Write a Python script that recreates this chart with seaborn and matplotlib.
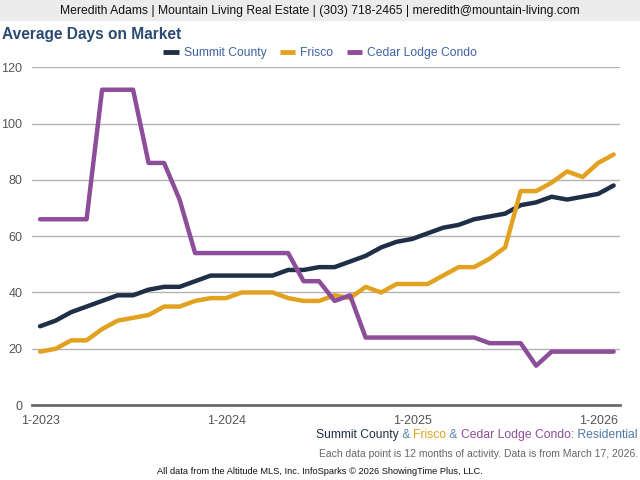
import numpy as np
import pandas as pd
import matplotlib

matplotlib.use("Agg")
import matplotlib.pyplot as plt
import seaborn as sns

# monthly points, Jan 2023 .. Feb 2026 (12-month rolling)
months = pd.period_range("2023-01", "2026-02", freq="M")
summit = [28, 30, 33, 35, 37, 39, 39, 41, 42, 42, 44, 46, 46, 46, 46, 46,
          48, 48, 49, 49, 51, 53, 56, 58, 59, 61, 63, 64, 66, 67, 68, 71,
          72, 74, 73, 74, 75, 78]
frisco = [19, 20, 23, 23, 27, 30, 31, 32, 35, 35, 37, 38, 38, 40, 40, 40,
          38, 37, 37, 39, 38, 42, 40, 43, 43, 43, 46, 49, 49, 52, 56, 76,
          76, 79, 83, 81, 86, 89]
cedar = [66, 66, 66, 66, 112, 112, 112, 86, 86, 73, 54, 54, 54, 54, 54, 54,
         54, 44, 44, 37, 39, 24, 24, 24, 24, 24, 24, 24, 24, 22, 22, 22,
         14, 19, 19, 19, 19, 19]
series_names = ["Summit County", "Frisco", "Cedar Lodge Condo"]
tick_labels = ["1-2023", "1-2024", "1-2025", "1-2026"]

colors = {"Summit County": "#1f2f47", "Frisco": "#e2a11f",
          "Cedar Lodge Condo": "#8c4e99"}

idx = np.arange(len(months))
df = pd.DataFrame({"Summit County": summit, "Frisco": frisco,
                   "Cedar Lodge Condo": cedar}, index=idx)
long = df.reset_index().melt(id_vars="index", var_name="series",
                             value_name="days")

sns.set_theme(style="white")
plt.rcParams["font.family"] = ["Liberation Sans", "DejaVu Sans"]

fig = plt.figure(figsize=(6.4, 4.8), dpi=100)
ax = fig.add_axes([0.05, 0.156, 0.919, 0.704])

sns.lineplot(data=long, x="index", y="days", hue="series",
             hue_order=series_names, palette=colors, linewidth=3.2,
             ax=ax, legend=False)

ax.set_xlim(-0.52, 37.42)
ax.set_ylim(0, 120)
ax.set_yticks(np.arange(0, 121, 20))
ax.yaxis.grid(True, color="#b3b3b3", linewidth=1)
ax.set_axisbelow(True)
ax.set_xticks([0, 12, 24, 36])
ax.set_xticklabels(tick_labels)
ax.set_xlabel("")
ax.set_ylabel("")
for s in ["top", "right", "left"]:
    ax.spines[s].set_visible(False)
ax.spines["bottom"].set_color("#6b6b6b")
ax.spines["bottom"].set_linewidth(2)
ax.tick_params(axis="x", length=5, width=1.2, color="#6b6b6b",
               labelcolor="#555555", labelsize=9, pad=2)
ax.tick_params(axis="y", length=0, labelcolor="#555555", labelsize=9, pad=7)

# legend
handles = [plt.Line2D([], [], color=colors[n], linewidth=3.5,
                      solid_capstyle="butt") for n in series_names]
leg = fig.legend(handles, series_names, loc="center", bbox_to_anchor=(0.5, 1 - 53 / 480),
                 ncol=3, frameon=False, fontsize=8.7, handlelength=1.3,
                 columnspacing=1.1, handletextpad=0.4)
for t in leg.get_texts():
    t.set_color("#3f63a0")

# header band
fig.patches.append(plt.Rectangle((0, 1 - 20 / 480), 1, 20 / 480,
                                 transform=fig.transFigure,
                                 color="#ececec", zorder=0))
fig.text(0.5, 1 - 11 / 480,
         "Meredith Adams | Mountain Living Real Estate | (303) 718-2465 | meredith@mountain-living.com",
         ha="center", va="center", fontsize=8.7, color="#111111")
fig.text(0.003, 1 - 35 / 480, "Average Days on Market", ha="left",
         va="center", fontsize=11.2, fontweight="bold", color="#2b4b72")

# multicolored caption, built right to left
fig.canvas.draw()
renderer = fig.canvas.get_renderer()
pieces = [("Summit County", "#1f2f47"), (" & ", "#5b82b0"),
          ("Frisco", "#e2a11f"), (" & ", "#5b82b0"),
          ("Cedar Lodge Condo:", "#8c4e99"), (" Residential", "#4f79a8")]
x = 638 / 640
y = 1 - 435 / 480
for text, col in reversed(pieces):
    t = fig.text(x, y, text, ha="right", va="center", fontsize=8.7, color=col)
    bb = t.get_window_extent(renderer)
    x -= bb.width / fig.bbox.width

fig.text(638 / 640, 1 - 454 / 480,
         "Each data point is 12 months of activity. Data is from March 17, 2026.",
         ha="right", va="center", fontsize=7.5, color="#666666")
fig.text(0.5, 1 - 471 / 480,
         "All data from the Altitude MLS, Inc. InfoSparks \u00a9 2026 ShowingTime Plus, LLC.",
         ha="center", va="center", fontsize=6.7, color="#111111")

fig.savefig("out.png", dpi=100)
